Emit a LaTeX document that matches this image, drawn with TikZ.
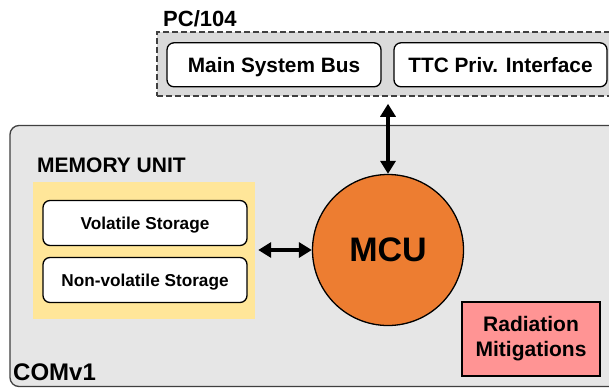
\documentclass[tikz,border=0pt]{standalone}
\usepackage{fontspec}
\setmainfont{Liberation Sans}
\usetikzlibrary{arrows.meta,calc}
\definecolor{comgray}{HTML}{E6E6E6}
\definecolor{pcgray}{HTML}{DADADA}
\definecolor{memyellow}{HTML}{FFE699}
\definecolor{mcuorange}{HTML}{ED7D31}
\definecolor{radpink}{HTML}{FF9494}
\definecolor{edgegray}{HTML}{404040}
\begin{document}
\begin{tikzpicture}[x=1pt,y=-1pt,
  lbl/.style={inner sep=0, anchor=base west, font=\fontsize{#1}{#1}\selectfont\bfseries},
  whitebox/.style={draw=black, line width=1.3pt, fill=white, rounded corners=7pt, inner sep=0,
    font=\fontsize{#1}{#1}\selectfont\bfseries, text height=0.72*#1 pt, text depth=0pt},
  dblarrow/.style={line width=4pt, {Triangle[length=13pt,width=15pt]}-{Triangle[length=13pt,width=15pt]}}
]
\clip (0,0) rectangle (609,389);
\fill[white] (0,0) rectangle (609,389);
% COMv1 box
\node[draw=edgegray, line width=1.3pt, fill=comgray, rounded corners=9pt, minimum width=612pt, minimum height=261pt, inner sep=0] (com) at (316,256) {};
% PC/104 box
\node[draw=edgegray, line width=1.5pt, dash pattern=on 6pt off 3pt, fill=pcgray, minimum width=460pt, minimum height=64pt, inner sep=0] (pc) at (387,64) {};
\node[lbl=22] (pclbl) at (163,26.5) {PC/104};
\node[whitebox=20.8, minimum width=214pt, minimum height=44pt] (bus) at (274,64.8) {Main System Bus};
\node[whitebox=20.8, minimum width=213pt, minimum height=44pt] (ttc) at (500.5,64.8) {TTC Priv. Interface};
% Memory unit
\node[lbl=21] (memlbl) at (37,172.5) {MEMORY UNIT};
\node[fill=memyellow, minimum width=222pt, minimum height=137pt, inner sep=0] (mem) at (144,250.5) {};
\node[whitebox=17.2, minimum width=204pt, minimum height=45pt] (vol) at (145,223) {Volatile Storage};
\node[whitebox=17.2, minimum width=204pt, minimum height=45pt] (nvol) at (145,280) {Non-volatile Storage};
% MCU
\node[circle, draw=black, line width=1.3pt, fill=mcuorange, minimum size=151pt, inner sep=0, font=\fontsize{34}{34}\selectfont\bfseries] (mcu) at (388,250) {MCU};
% Radiation
\node[draw=black, line width=1.5pt, fill=radpink, minimum width=138pt, minimum height=74pt, inner sep=0, align=center, font=\fontsize{21}{25}\selectfont\bfseries] (rad) at (531,339) {Radiation\\Mitigations};
\node[lbl=24] (comlbl) at (13,380) {COMv1};
% arrows
\draw[dblarrow, shorten <=7pt] (mcu.north |- pc.south) -- (mcu.north);
\draw[dblarrow, shorten <=3pt] (mem.east |- mcu.west) -- (mcu.west);
\end{tikzpicture}
\end{document}
